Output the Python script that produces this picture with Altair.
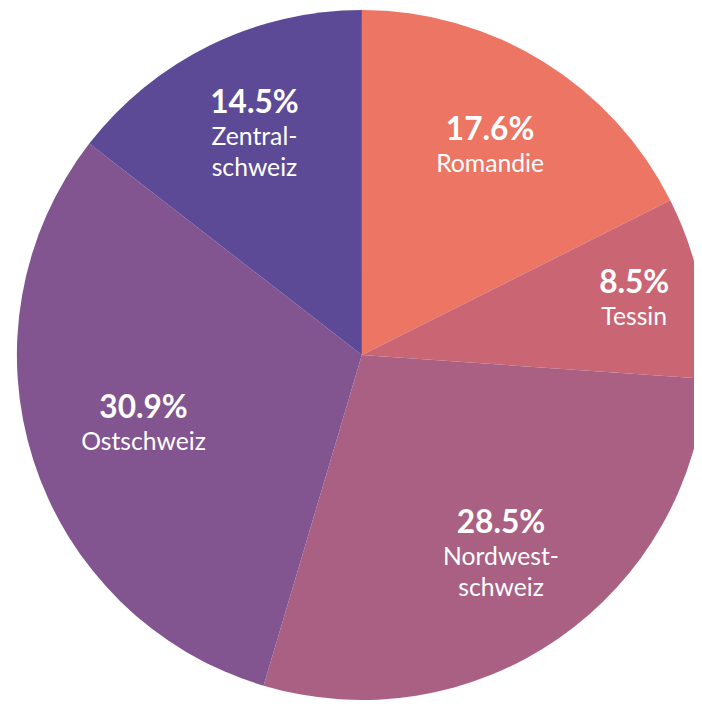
import altair as alt
import pandas as pd

regions = ["Romandie", "Tessin", "Nordwest-\nschweiz", "Ostschweiz", "Zentral-\nschweiz"]
shares = [17.6, 8.5, 28.5, 30.9, 14.5]
colors = ["#EC7563", "#CA6674", "#A96083", "#825490", "#5C4A97"]

df = pd.DataFrame({
    "region": regions,
    "share": shares,
    "order": list(range(len(regions))),
    "pct": [f"{s:.1f}%" for s in shares],
    "n": [r.count("\n") + 1 for r in regions],
})

FONT = "Lato"
CX, CY = 358, 347

arcs = alt.Chart(df).mark_arc(radius=349, stroke=None).encode(
    theta=alt.Theta("share:Q", stack=True, scale=alt.Scale(domain=[0, 100])),
    order=alt.Order("order:Q"),
    color=alt.Color("region:N", scale=alt.Scale(domain=regions, range=colors), legend=None),
    x=alt.value(CX),
    y=alt.value(CY),
)

labels = alt.Chart(df).transform_window(
    cum="sum(share)", sort=[alt.SortField("order")],
).transform_calculate(
    mid="datum.cum - datum.share / 2",
    lr="datum.share < 10 ? 281 : (datum.share > 30 ? 232 : 247)",
).encode(
    theta=alt.Theta("mid:Q", stack=False, scale=alt.Scale(domain=[0, 100])),
    radius=alt.Radius("lr:Q", scale=None),
    x=alt.value(CX),
    y=alt.value(CY),
)

pct = labels.mark_text(
    font=FONT, fontSize=32, fontWeight="bold", color="white",
    baseline="middle", align="center",
    dy=alt.ExprRef("-1 - 16 * datum.n"),
).encode(text="pct:N")

names = labels.mark_text(
    font=FONT, fontSize=25, color="white", baseline="middle", align="center",
    lineBreak="\n", lineHeight=32,
    dy=alt.ExprRef("33 - 16 * datum.n"),
).encode(text="region:N")

chart = (arcs + pct + names).properties(
    width=694, height=699, padding=0,
    autosize=alt.AutoSizeParams(type="none"),
).configure_view(stroke=None)

chart.save("out.html", embed_options={"renderer": "svg", "actions": False})
